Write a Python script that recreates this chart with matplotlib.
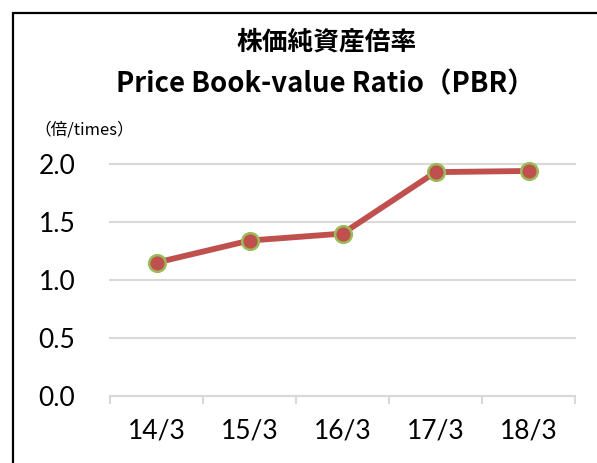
import matplotlib.pyplot as plt
from matplotlib.patches import Rectangle

# Data
periods = ['14/3', '15/3', '16/3', '17/3', '18/3']
pbr = [1.15, 1.34, 1.40, 1.93, 1.94]
y_ticks = [0.0, 0.5, 1.0, 1.5, 2.0]

W, H = 597, 463
fig = plt.figure(figsize=(W / 100, H / 100), dpi=100)

# black frame (only left and top edges are visible in the reference)
fig.patches.append(Rectangle((13 / W, -0.1), 1.2, 1 - 13 / H + 0.1,
                             transform=fig.transFigure, fill=False,
                             edgecolor='black', linewidth=1.6))

left, right = 110 / W, 575 / W
bottom, top = 1 - 396 / H, 1 - 164 / H
ax = fig.add_axes([left, bottom, right - left, top - bottom])

x = list(range(len(periods)))
ax.plot(x, pbr, color='#C0504D', linewidth=4.2, marker='o', markersize=12,
        markerfacecolor='#C0504D', markeredgecolor='#9BBB59',
        markeredgewidth=1.8, zorder=3, clip_on=False)

ax.set_xlim(-0.5, len(periods) - 0.5)
ax.set_ylim(0, 2.0)
ax.set_yticks(y_ticks)
ax.set_yticklabels(['%.1f' % v for v in y_ticks], fontsize=19, family='Lato')
ax.set_xticks(x)
ax.set_xticklabels(periods, fontsize=19, family='Lato')

# grid lines
for v in y_ticks[1:]:
    ax.axhline(v, color='#D9D9D9', linewidth=1.5, zorder=1, clip_on=False)

for s in ['top', 'right', 'left']:
    ax.spines[s].set_visible(False)
ax.spines['bottom'].set_color('#D9D9D9')
ax.spines['bottom'].set_linewidth(1.5)

# boundary tick marks between categories
ax.set_xticks([i - 0.5 for i in range(len(periods) + 1)], minor=True)
ax.tick_params(axis='x', which='minor', length=6, width=1.5, color='#D9D9D9')
ax.tick_params(axis='x', which='major', length=0, pad=16)
ax.tick_params(axis='y', length=0, pad=25)

jp = ['Noto Sans CJK JP', 'DejaVu Sans']
fig.text(327 / W, 1 - 42 / H, '株価純資産倍率', fontsize=18.5, fontweight='bold',
         family=jp, ha='center', va='center')
fig.text(116 / W, 1 - 84 / H, 'Price Book-value Ratio（PBR）', fontsize=19.8,
         fontweight='bold', family=jp, ha='left', va='center')
fig.text(34 / W, 1 - 130 / H, '（倍/times）', fontsize=12,
         family=jp, ha='left', va='center')

fig.savefig('out.png', dpi=100)
